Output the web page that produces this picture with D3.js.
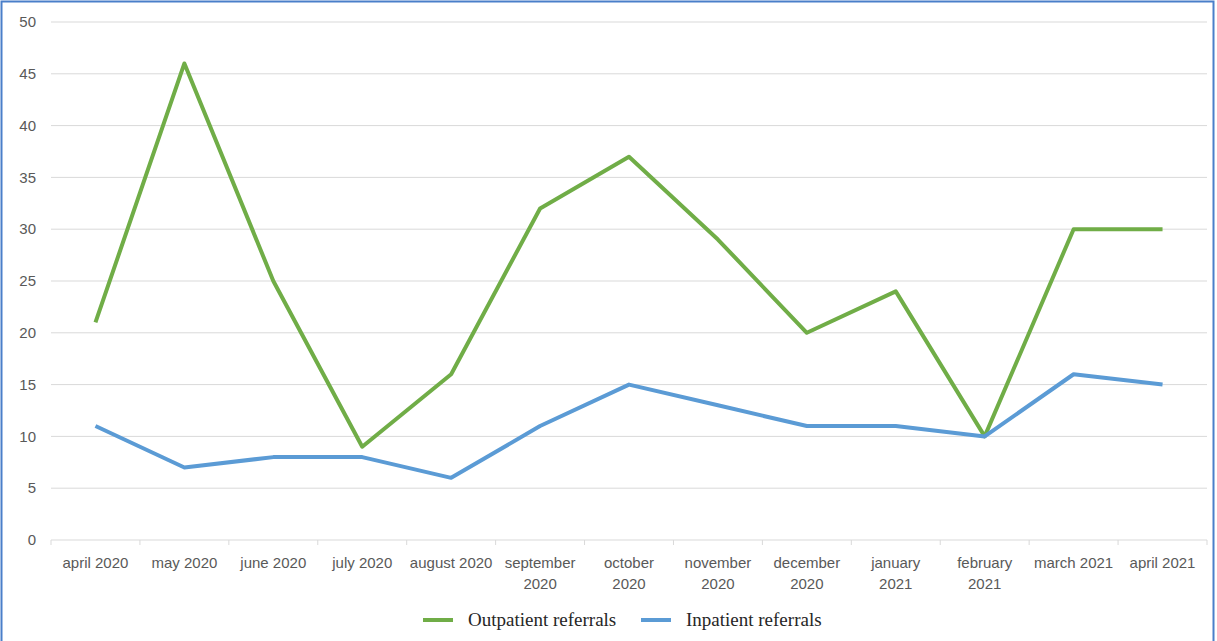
<!DOCTYPE html>
<html>
<head>
<meta charset="utf-8">
<script src="https://cdn.jsdelivr.net/npm/d3@7"></script>
<style>
  body { margin: 0; background: #fff; }
  svg { display: block; }
</style>
</head>
<body>
<svg id="chart"></svg>
<script>
const months = [
  "april 2020", "may 2020", "june 2020", "july 2020", "august 2020",
  "september\n2020", "october\n2020", "november\n2020", "december\n2020",
  "january\n2021", "february\n2021", "march 2021", "april 2021"
];
const outpatient = [21, 46, 25, 9, 16, 32, 37, 29, 20, 24, 10, 30, 30];
const inpatient = [11, 7, 8, 8, 6, 11, 15, 13, 11, 11, 10, 16, 15];
const yTicks = [0, 5, 10, 15, 20, 25, 30, 35, 40, 45, 50];

const size = { width: 1217, height: 641 };
const margin = { top: 22, right: 10, bottom: 101, left: 51 };
const GREEN = "#70ad47";
const BLUE = "#5b9bd5";

const svg = d3.select("#chart")
  .attr("width", size.width)
  .attr("height", size.height);

// blue frame round the picture
svg.append("rect")
  .attr("x", 1.5).attr("y", 1.5)
  .attr("width", 1212).attr("height", 660)
  .attr("fill", "none")
  .attr("stroke", "#4a7fc9")
  .attr("stroke-width", 2);

const x = d3.scaleBand()
  .domain(months)
  .range([margin.left, 1207]);

const y = d3.scaleLinear()
  .domain([0, 50])
  .range([size.height - margin.bottom, margin.top]);

// gridlines + y labels
yTicks.forEach((v) => {
  if (v > 0) {
    svg.append("line")
      .attr("x1", margin.left).attr("x2", 1207)
      .attr("y1", y(v)).attr("y2", y(v))
      .attr("stroke", "#d9d9d9")
      .attr("stroke-width", 1);
  }
  svg.append("text")
    .text(v)
    .attr("x", 36)
    .attr("y", y(v))
    .attr("dy", "0.35em")
    .attr("text-anchor", "end")
    .style("font-family", "Liberation Sans, Arial, sans-serif")
    .style("font-size", "15px")
    .attr("fill", "#595959");
});

// x axis line and tick marks at band edges
const axisY = y(0);
svg.append("line")
  .attr("x1", margin.left).attr("x2", 1207)
  .attr("y1", axisY).attr("y2", axisY)
  .attr("stroke", "#d9d9d9");

const edges = months.map((m) => x(m)).concat([x(months[months.length - 1]) + x.bandwidth()]);
svg.selectAll(".xtick")
  .data(edges)
  .enter()
  .append("line")
  .attr("x1", (d) => d).attr("x2", (d) => d)
  .attr("y1", axisY).attr("y2", axisY + 5)
  .attr("stroke", "#d9d9d9");

months.forEach((m) => {
  const t = svg.append("text")
    .attr("x", x(m) + x.bandwidth() / 2)
    .attr("y", axisY + 28)
    .attr("text-anchor", "middle")
    .style("font-family", "Liberation Sans, Arial, sans-serif")
    .style("font-size", "15px")
    .attr("fill", "#595959");
  m.split("\n").forEach((part, i) => {
    t.append("tspan")
      .attr("x", x(m) + x.bandwidth() / 2)
      .attr("dy", i === 0 ? 0 : 21)
      .text(part);
  });
});

const line = d3.line()
  .x((d, i) => x(months[i]) + x.bandwidth() / 2)
  .y((d) => y(d));

svg.append("path")
  .datum(outpatient)
  .attr("d", line)
  .attr("fill", "none")
  .attr("stroke", GREEN)
  .attr("stroke-width", 4)
  .attr("stroke-linejoin", "round");

svg.append("path")
  .datum(inpatient)
  .attr("d", line)
  .attr("fill", "none")
  .attr("stroke", BLUE)
  .attr("stroke-width", 4)
  .attr("stroke-linejoin", "round");

// legend
const legend = [
  { name: "Outpatient referrals", color: GREEN, x: 423 },
  { name: "Inpatient referrals", color: BLUE, x: 641 }
];
legend.forEach((l) => {
  svg.append("line")
    .attr("x1", l.x).attr("x2", l.x + 30)
    .attr("y1", 620).attr("y2", 620)
    .attr("stroke", l.color)
    .attr("stroke-width", 4);
  svg.append("text")
    .text(l.name)
    .attr("x", l.x + 45)
    .attr("y", 626)
    .style("font-family", "Liberation Serif, Times New Roman, serif")
    .style("font-size", "19px")
    .attr("fill", "#262626");
});
</script>
</body>
</html>
